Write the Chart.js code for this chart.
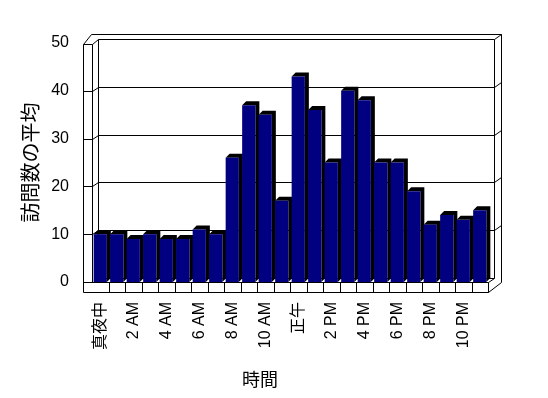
<!DOCTYPE html>
<html>
<head>
<meta charset="utf-8">
<script src="https://cdn.jsdelivr.net/npm/chart.js"></script>
<style>
    html, body { margin: 0; padding: 0; background: #fff; }
    #wrap { width: 548px; height: 398px; }
</style>
</head>
<body>
<div id="wrap"><canvas id="chartVisitas"></canvas></div>
<script>
// --- Datos ---
const hourLabels = ['真夜中', '1 AM', '2 AM', '3 AM', '4 AM', '5 AM', '6 AM', '7 AM', '8 AM', '9 AM', '10 AM', '11 AM',
                    '正午', '1 PM', '2 PM', '3 PM', '4 PM', '5 PM', '6 PM', '7 PM', '8 PM', '9 PM', '10 PM', '11 PM'];
const avgVisits = [10, 10, 9, 10, 9, 9, 11, 10, 26, 37, 35, 17, 43, 36, 25, 40, 38, 25, 25, 19, 12, 14, 13, 15];
const yTicks = [0, 10, 20, 30, 40, 50];
const yTitle = '訪問数の平均';
const xTitle = '時間';

const FONT = '"Liberation Sans", "Noto Sans CJK JP", sans-serif';

// --- Plugin para el efecto 3D (paredes, piso y profundidad de barras) ---
const frame3d = {
    id: 'frame3d',
    beforeDatasetsDraw(chart) {
        const { ctx, chartArea: a, scales: { x, y } } = chart;
        const L = a.left, R = a.right, T = a.top, B = a.bottom;
        const p = v => Math.round(v) + 0.5;
        const line = pts => {
            ctx.beginPath();
            pts.forEach(([px, py], i) => i ? ctx.lineTo(p(px), p(py)) : ctx.moveTo(p(px), p(py)));
            ctx.stroke();
        };
        ctx.save();
        ctx.strokeStyle = '#000';
        ctx.lineWidth = 1;

        // pared izquierda y borde exterior
        line([[L - 9, B + 10], [L - 9, T + 1], [L - 1, T - 9], [R + 13, T - 9], [R + 13, B], [R, B + 10]]);
        line([[L - 9, T + 1], [L, T + 1], [L, B]]);
        line([[L, T + 1], [L + 6, T - 4]]);
        // pared del fondo
        line([[L + 6, B - 4], [L + 6, T - 4], [R + 6, T - 4], [R + 6, B - 4], [L + 6, B - 4]]);
        line([[R + 6, T - 4], [R + 13, T - 9]]);
        line([[R, B], [R + 6, B - 4]]);
        // lineas de division
        yTicks.slice(1, -1).forEach(v => {
            const f = y.getPixelForValue(v);
            line([[L - 9, f], [L, f], [L + 6, f - 4], [R + 6, f - 4], [R + 13, f - 9]]);
        });
        // piso frontal con marcas
        line([[L - 9, B], [R, B], [R, B + 10], [L - 9, B + 10]]);
        for (let i = 1; i < hourLabels.length; i++) {
            const bx = (x.getPixelForValue(i - 1) + x.getPixelForValue(i)) / 2;
            line([[bx, B], [bx, B + 10]]);
        }

        // profundidad de las barras
        ctx.fillStyle = '#000';
        const bdx = 4, bdy = -4;
        chart.getDatasetMeta(0).data.forEach(bar => {
            const { x: bx, y: top, base, width } = bar.getProps(['x', 'y', 'base', 'width'], true);
            const x0 = bx - width / 2, x1 = bx + width / 2;
            ctx.beginPath();
            ctx.moveTo(x0, top);
            ctx.lineTo(x0 + bdx, top + bdy);
            ctx.lineTo(x1 + bdx, top + bdy);
            ctx.lineTo(x1 + bdx, base + bdy);
            ctx.lineTo(x1, base);
            ctx.lineTo(x1, top);
            ctx.closePath();
            ctx.fill();
        });
        ctx.restore();
    },
    afterDraw(chart) {
        const { ctx, chartArea: a } = chart;
        ctx.save();
        ctx.fillStyle = '#000';
        ctx.font = '18px ' + FONT;
        ctx.textAlign = 'center';
        ctx.textBaseline = 'middle';
        ctx.fillText(xTitle, (a.left + a.right) / 2 - 30, 381);
        ctx.restore();
    }
};

const ctx = document.getElementById('chartVisitas').getContext('2d');
new Chart(ctx, {
    type: 'bar',
    data: {
        labels: hourLabels,
        datasets: [{
            label: yTitle,
            data: avgVisits,
            backgroundColor: '#000080',
            borderWidth: 0,
            barPercentage: 0.8,
            categoryPercentage: 1
        }]
    },
    options: {
        responsive: true,
        maintainAspectRatio: false,
        animation: false,
        devicePixelRatio: 1,
        layout: { padding: { top: 43, right: 60, left: 0, bottom: 0 } },
        plugins: {
            legend: { display: false },
            tooltip: { enabled: false }
        },
        scales: {
            x: {
                grid: { display: false, drawTicks: false },
                border: { display: false },
                ticks: {
                    autoSkip: false,
                    minRotation: 90,
                    maxRotation: 90,
                    padding: 20,
                    color: '#000',
                    font: { size: 16, family: FONT },
                    callback: (v, i) => i % 2 === 0 ? hourLabels[i] : ''
                },
                afterFit: scale => { scale.height = 116; }
            },
            y: {
                min: yTicks[0],
                max: yTicks[yTicks.length - 1],
                grid: { display: false, drawTicks: false },
                border: { display: false },
                ticks: {
                    stepSize: yTicks[1] - yTicks[0],
                    padding: 23,
                    color: '#000',
                    font: { size: 16, family: FONT }
                },
                title: {
                    display: true,
                    text: yTitle,
                    color: '#000',
                    padding: { top: 20, bottom: 0 },
                    font: { size: 20, family: FONT }
                },
                afterFit: scale => { scale.width = 92; }
            }
        }
    },
    plugins: [frame3d]
});
</script>
</body>
</html>
